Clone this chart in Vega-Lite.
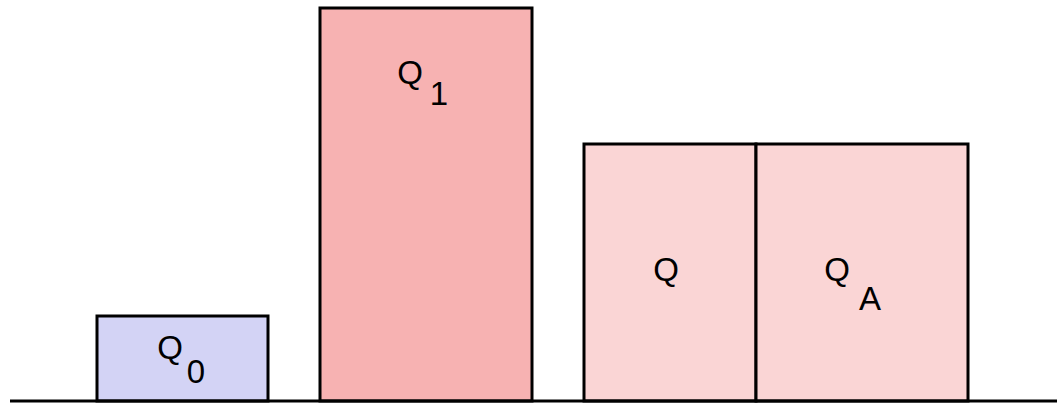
{
  "$schema": "https://vega.github.io/schema/vega-lite/v6.json",
  "autosize": {"type": "fit", "contains": "padding"},
  "width": 1061,
  "height": 405,
  "padding": 0,
  "background": "white",
  "config": {"view": {"stroke": null}},
  "datasets": {
    "bars": [
      {"name": "Q0", "x0": 97, "x1": 268, "b": 0, "h": 85, "kind": "start"},
      {"name": "Q1", "x0": 320, "x1": 532, "b": 0, "h": 393, "kind": "peak"},
      {"name": "Q", "x0": 584, "x1": 756, "b": 0, "h": 257, "kind": "split"},
      {"name": "QA", "x0": 756, "x1": 968, "b": 0, "h": 257, "kind": "split"}
    ],
    "base": [{"x0": 10, "x1": 1057, "y": 0}],
    "labels": [
      {"t": "Q", "x": 170, "y": 42},
      {"t": "0", "x": 196, "y": 18},
      {"t": "Q", "x": 410, "y": 317},
      {"t": "1", "x": 439, "y": 296},
      {"t": "Q", "x": 666, "y": 120},
      {"t": "Q", "x": 837, "y": 120},
      {"t": "A", "x": 870, "y": 91}
    ]
  },
  "layer": [
    {
      "data": {"name": "bars"},
      "mark": {"type": "rect", "stroke": "black", "strokeWidth": 3},
      "encoding": {
        "x": {"field": "x0", "type": "quantitative", "scale": {"domain": [0, 1061], "nice": false, "zero": false}, "axis": null},
        "x2": {"field": "x1"},
        "y": {"field": "b", "type": "quantitative", "scale": {"domain": [-4, 401], "nice": false, "zero": false}, "axis": null},
        "y2": {"field": "h"},
        "fill": {"field": "kind", "type": "nominal", "scale": {"domain": ["start", "peak", "split"], "range": ["#d3d3f5", "#f7b2b2", "#fad5d5"]}, "legend": null}
      }
    },
    {
      "data": {"name": "base"},
      "mark": {"type": "rule", "stroke": "black", "strokeWidth": 3},
      "encoding": {
        "x": {"field": "x0", "type": "quantitative"},
        "x2": {"field": "x1"},
        "y": {"field": "y", "type": "quantitative"}
      }
    },
    {
      "data": {"name": "labels"},
      "mark": {"type": "text", "font": "Arial", "fontSize": 33, "align": "center", "baseline": "alphabetic", "color": "black"},
      "encoding": {
        "x": {"field": "x", "type": "quantitative"},
        "y": {"field": "y", "type": "quantitative"},
        "text": {"field": "t", "type": "nominal"}
      }
    }
  ]
}
